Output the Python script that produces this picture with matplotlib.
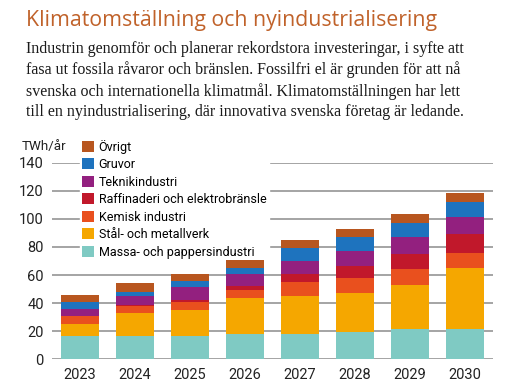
import numpy as np
import matplotlib
matplotlib.use("Agg")
import matplotlib.pyplot as plt

# Data (TWh/år)
years = ["2023", "2024", "2025", "2026", "2027", "2028", "2029", "2030"]
massa = [16.9, 16.9, 16.7, 18.3, 18.1, 19.3, 21.7, 21.7]
stal = [8.6, 16.4, 18.5, 25.5, 27.1, 28.1, 31.4, 43.5]
kemisk = [5.0, 5.0, 5.3, 5.7, 10.0, 10.7, 11.4, 10.8]
raff = [0.3, 0.3, 1.6, 2.9, 5.5, 8.3, 10.5, 13.5]
teknik = [5.2, 6.2, 9.1, 8.6, 9.5, 11.0, 12.1, 11.5]
gruvor = [4.5, 3.3, 4.3, 4.0, 9.3, 10.0, 10.0, 10.7]
ovrigt = [5.5, 6.4, 5.5, 6.0, 5.7, 5.7, 6.0, 6.4]

series = [
    ("Massa- och pappersindustri", massa, "#7fcac3"),
    ("Stål- och metallverk", stal, "#f5a700"),
    ("Kemisk industri", kemisk, "#e9501e"),
    ("Raffinaderi och elektrobränsle", raff, "#c1182b"),
    ("Teknikindustri", teknik, "#93207f"),
    ("Gruvor", gruvor, "#1e73be"),
    ("Övrigt", ovrigt, "#b8561f"),
]

title = "Klimatomställning och nyindustrialisering"
body = ["Industrin genomför och planerar rekordstora investeringar, i syfte att",
        "fasa ut fossila råvaror och bränslen. Fossilfri el är grunden för att nå",
        "svenska och internationella klimatmål. Klimatomställningen har lett",
        "till en nyindustrialisering, där innovativa svenska företag är ledande."]

fig = plt.figure(figsize=(5.25, 3.91), dpi=100)
ax = fig.add_axes([0.099, 0.081, 0.84, 0.503])

x = np.arange(len(years))
bottom = np.zeros(len(years))
for name, vals, col in series:
    ax.bar(x, vals, 0.69, bottom=bottom, color=col, label=name, zorder=2)
    bottom += np.array(vals)

ax.set_ylim(0, 140)
ax.set_xlim(-0.51, 7.51)
ax.set_yticks(range(0, 141, 20))
ax.set_xticks(x)
ax.set_xticklabels(years)
ax.yaxis.grid(True, color="#8c8c8c", linewidth=1.1, zorder=0)
ax.set_axisbelow(True)
for s in ax.spines.values():
    s.set_visible(False)
ax.tick_params(length=0, labelsize=10.5, colors="#222222", pad=6)
for lab in ax.get_xticklabels() + ax.get_yticklabels():
    lab.set_family("Roboto")

# legend with white box hiding the grid, but drawn under the bars
handles, labels = ax.get_legend_handles_labels()
leg = ax.legend(handles[::-1], labels[::-1], loc="upper left",
                bbox_to_anchor=(0.063, 1.13), frameon=True, facecolor="white",
                edgecolor="white", framealpha=1, fancybox=False,
                prop={"family": "Roboto", "size": 9.0},
                handlelength=0.95, handleheight=0.95, handletextpad=0.35,
                labelspacing=0.36, borderpad=0.2, borderaxespad=0)
leg.set_zorder(1.5)

fig.text(0.042, 0.625, "TWh/år", family="Roboto", fontsize=9.6,
         color="#222222", va="center")

fig.text(0.05, 0.948, title, family="Open Sans", fontsize=15.3,
         color="#c0622a", va="center")
for i, line in enumerate(body):
    fig.text(0.05, 0.875 - i * 0.054, line, family="Liberation Serif",
             fontsize=11.5, color="#1a1a1a", va="center")

fig.savefig("out.png", dpi=100)
